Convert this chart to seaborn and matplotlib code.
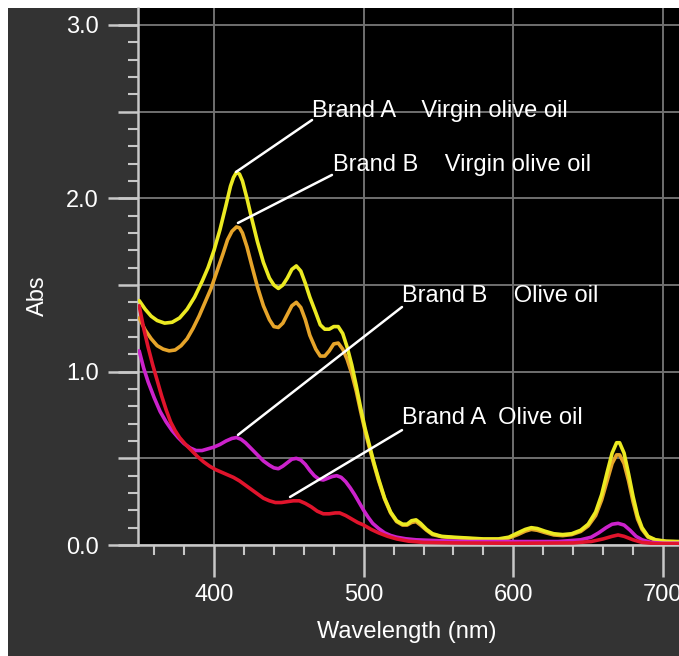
import numpy as np
import pandas as pd
import matplotlib
matplotlib.use("Agg")
import matplotlib.pyplot as plt
from matplotlib.patches import Rectangle
from matplotlib.ticker import MultipleLocator
import seaborn as sns

# Absorption spectra
wl_a_virgin = [350, 354, 358, 362, 367, 372, 377, 382, 387, 392, 396, 400, 404, 408, 411, 413, 415, 417,
               419, 422, 425, 429, 433, 437, 440, 443, 446, 449, 452, 455, 458, 461, 464, 468, 471, 474,
               477, 480, 483, 486, 489, 492, 495, 498, 501, 504, 507, 510, 514, 518, 522, 526, 529, 532,
               535, 538, 542, 546, 552, 560, 570, 580, 590, 597, 603, 608, 612, 616, 621, 627, 633, 639,
               645, 650, 655, 659, 663, 666, 669, 671, 674, 677, 680, 683, 686, 690, 695, 702, 711]
abs_a_virgin = [1.41, 1.36, 1.32, 1.295, 1.28, 1.285, 1.31, 1.36, 1.43, 1.52, 1.60, 1.70, 1.82, 1.96, 2.07,
                2.12, 2.15, 2.14, 2.10, 2.00, 1.89, 1.75, 1.63, 1.54, 1.50, 1.48, 1.50, 1.54, 1.59, 1.61,
                1.58, 1.51, 1.43, 1.34, 1.27, 1.245, 1.245, 1.26, 1.26, 1.22, 1.14, 1.04, 0.92, 0.79, 0.67,
                0.57, 0.47, 0.38, 0.27, 0.19, 0.14, 0.12, 0.12, 0.14, 0.145, 0.125, 0.09, 0.065, 0.05, 0.045,
                0.04, 0.035, 0.035, 0.045, 0.07, 0.09, 0.10, 0.095, 0.08, 0.065, 0.06, 0.065, 0.085, 0.12,
                0.19, 0.29, 0.43, 0.53, 0.59, 0.59, 0.53, 0.41, 0.28, 0.17, 0.10, 0.05, 0.03, 0.022, 0.02]

wl_b_virgin = [350, 354, 358, 362, 366, 370, 374, 378, 382, 386, 390, 394, 398, 402, 406, 409, 412, 415,
               417, 419, 422, 425, 429, 433, 437, 440, 443, 446, 449, 452, 455, 458, 461, 464, 468, 471,
               474, 477, 480, 483, 486, 489, 492, 495, 498, 501, 504, 507, 510, 514, 518, 522, 526, 529,
               532, 535, 538, 542, 546, 552, 560, 570, 580, 590, 597, 603, 608, 612, 616, 621, 627, 633,
               639, 645, 650, 655, 659, 663, 666, 669, 671, 674, 677, 680, 683, 686, 690, 695, 702, 711]
abs_b_virgin = [1.31, 1.24, 1.19, 1.15, 1.13, 1.12, 1.125, 1.15, 1.19, 1.25, 1.32, 1.40, 1.48, 1.58, 1.68,
                1.76, 1.81, 1.835, 1.83, 1.80, 1.72, 1.62, 1.49, 1.38, 1.30, 1.26, 1.255, 1.28, 1.33, 1.38,
                1.40, 1.37, 1.30, 1.21, 1.13, 1.09, 1.09, 1.12, 1.16, 1.165, 1.13, 1.07, 0.99, 0.89, 0.77,
                0.655, 0.555, 0.46, 0.37, 0.265, 0.185, 0.135, 0.115, 0.115, 0.13, 0.135, 0.115, 0.085,
                0.06, 0.048, 0.042, 0.037, 0.032, 0.032, 0.04, 0.06, 0.08, 0.09, 0.085, 0.072, 0.058, 0.054,
                0.06, 0.078, 0.11, 0.17, 0.26, 0.38, 0.47, 0.52, 0.52, 0.47, 0.37, 0.25, 0.15, 0.09, 0.045,
                0.028, 0.02, 0.018]

wl_b_olive = [350, 353, 356, 360, 364, 368, 372, 376, 380, 384, 388, 392, 396, 400, 404, 408, 412, 415,
              418, 421, 425, 429, 433, 437, 440, 443, 446, 449, 452, 455, 458, 461, 464, 467, 470, 473,
              476, 479, 482, 485, 488, 491, 494, 497, 500, 503, 506, 510, 514, 518, 522, 528, 535, 550,
              570, 600, 630, 645, 652, 657, 662, 666, 670, 674, 678, 682, 686, 692, 700, 711]
abs_b_olive = [1.12, 1.02, 0.94, 0.85, 0.77, 0.71, 0.66, 0.62, 0.585, 0.56, 0.545, 0.545, 0.555, 0.565,
               0.58, 0.60, 0.615, 0.62, 0.61, 0.59, 0.555, 0.52, 0.485, 0.46, 0.445, 0.44, 0.455, 0.475,
               0.495, 0.50, 0.49, 0.465, 0.43, 0.40, 0.38, 0.375, 0.385, 0.395, 0.40, 0.39, 0.365, 0.33,
               0.29, 0.245, 0.20, 0.16, 0.125, 0.095, 0.07, 0.055, 0.045, 0.036, 0.03, 0.025, 0.02, 0.02,
               0.02, 0.03, 0.045, 0.07, 0.10, 0.12, 0.125, 0.115, 0.085, 0.05, 0.03, 0.015, 0.01, 0.01]

wl_a_olive = [350, 353, 356, 359, 362, 365, 368, 371, 374, 377, 381, 385, 389, 393, 397, 401, 405, 409,
              413, 417, 421, 425, 429, 433, 437, 441, 445, 449, 453, 457, 461, 465, 469, 473, 477, 481,
              484, 488, 492, 496, 500, 505, 510, 516, 522, 530, 540, 560, 600, 640, 652, 660, 666, 670,
              674, 680, 686, 695, 711]
abs_a_olive = [1.38, 1.25, 1.14, 1.04, 0.95, 0.86, 0.78, 0.71, 0.66, 0.62, 0.58, 0.545, 0.51, 0.48, 0.455,
               0.435, 0.42, 0.405, 0.39, 0.37, 0.345, 0.32, 0.295, 0.27, 0.255, 0.245, 0.245, 0.25, 0.255,
               0.255, 0.24, 0.22, 0.195, 0.18, 0.18, 0.185, 0.185, 0.17, 0.15, 0.13, 0.115, 0.09, 0.07,
               0.05, 0.035, 0.022, 0.015, 0.012, 0.01, 0.012, 0.02, 0.035, 0.05, 0.058, 0.05, 0.03, 0.015,
               0.008, 0.006]

samples = ["Brand B Virgin olive oil", "Brand A Virgin olive oil", "Brand B Olive oil", "Brand A Olive oil"]
colors = ["#e6a42a", "#ecea22", "#cc22cc", "#e0142c"]

# annotation texts: label, peak point, end of leader line, text baseline position
ann_labels = ["Brand A    Virgin olive oil", "Brand B    Virgin olive oil", "Brand B    Olive oil", "Brand A  Olive oil"]
ann_peak = [(414.7, 2.152), (416.0, 1.858), (416.0, 0.635), (450.8, 0.277)]
ann_end = [(465.5, 2.452), (478.8, 2.135), (525.6, 1.373), (525.6, 0.663)]
ann_text = [(465.5, 2.467), (479.5, 2.158), (525.6, 1.402), (525.6, 0.698)]

frames = []
for name, wl, ab in [(samples[0], wl_b_virgin, abs_b_virgin), (samples[1], wl_a_virgin, abs_a_virgin),
                     (samples[2], wl_b_olive, abs_b_olive), (samples[3], wl_a_olive, abs_a_olive)]:
    frames.append(pd.DataFrame({"Wavelength": wl, "Abs": ab, "Sample": name}))
df = pd.concat(frames, ignore_index=True)

sns.set_theme(style="dark")
plt.rcParams["font.family"] = ["Liberation Sans", "DejaVu Sans"]
fs = 17

fig = plt.figure(figsize=(6.79, 6.56), dpi=100, facecolor="white")
fig.patches.append(Rectangle((8 / 679, 0), 1, 1 - 8 / 656, transform=fig.transFigure,
                             facecolor="#333333", edgecolor="none", zorder=-5))
ax = fig.add_axes([138 / 679, 111 / 656, 541 / 679, 537 / 656])
ax.set_facecolor("black")

sns.lineplot(data=df, x="Wavelength", y="Abs", hue="Sample", hue_order=samples,
             palette=dict(zip(samples, colors)), estimator=None, sort=True,
             linewidth=2.6, legend=False, ax=ax, zorder=3)

for lab, p, e, t in zip(ann_labels, ann_peak, ann_end, ann_text):
    ax.annotate("", xy=p, xytext=e,
                arrowprops=dict(arrowstyle="-", color="white", lw=1.8, shrinkA=0, shrinkB=0), zorder=4)
    ax.text(t[0], t[1], lab, color="white", fontsize=fs, ha="left", va="baseline", zorder=5)

ax.set_xlim(349.2, 710.7)
ax.set_ylim(0, 3.098)

grey = "#c8c8c8"
for s in ["top", "right"]:
    ax.spines[s].set_visible(False)
for s in ["left", "bottom"]:
    ax.spines[s].set_color(grey)
    ax.spines[s].set_linewidth(1.8)

ax.xaxis.set_major_locator(MultipleLocator(100))
ax.xaxis.set_minor_locator(MultipleLocator(20))
ax.yaxis.set_major_locator(MultipleLocator(0.5))
ax.yaxis.set_minor_locator(MultipleLocator(0.1))
ax.grid(which="major", color="#707070", linewidth=1.4)
ax.set_axisbelow(True)

ax.tick_params(axis="x", which="major", direction="out", length=23, width=1.8, color=grey,
               labelsize=fs, labelcolor="white", pad=5, bottom=True)
ax.tick_params(axis="x", which="minor", direction="out", length=7.2, width=1.5, color=grey, bottom=True)
ax.tick_params(axis="y", which="major", direction="out", length=14.4, width=1.8, color=grey,
               left=True, labelleft=False)
ax.tick_params(axis="y", which="minor", direction="out", length=7.2, width=1.5, color=grey, left=True)

sec = ax.secondary_yaxis("left")
sec.set_yticks([0, 1, 2, 3])
sec.set_yticklabels(["0.0", "1.0", "2.0", "3.0"])
sec.tick_params(axis="y", direction="out", length=21.6, width=1.8, color=grey,
                labelsize=fs, labelcolor="white", pad=6.5)
sec.spines["left"].set_visible(False)

ax.set_xlabel("Wavelength (nm)", fontsize=fs, color="white")
ax.xaxis.set_label_coords(0.497, -0.1415)
ax.set_ylabel("Abs", fontsize=fs, color="white")
ax.yaxis.set_label_coords(-0.1645, 0.4637)

fig.savefig("out.png", dpi=100, facecolor=fig.get_facecolor())
